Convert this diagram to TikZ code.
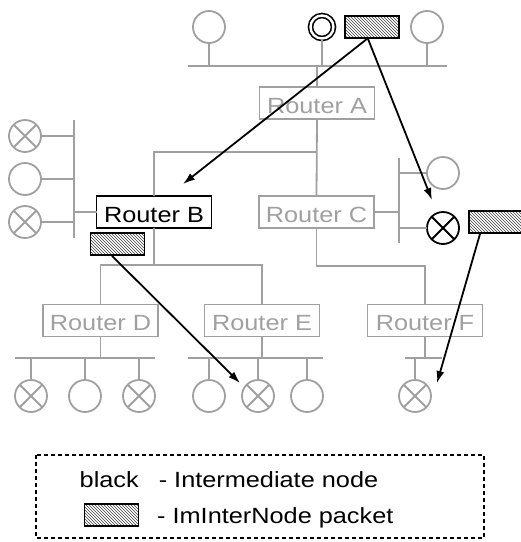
\documentclass[tikz,border=0pt]{standalone}
\usepackage{fontspec}
\setmainfont{Liberation Sans}[FakeStretch=1.15]
\usetikzlibrary{patterns,arrows.meta}
\definecolor{netgray}{RGB}{160,160,160}
\begin{document}
\begin{tikzpicture}[x=1pt,y=-1pt,
  wire/.style={draw=netgray,line width=1.8pt},
  host/.style={circle,draw=#1,line width=1.8pt,minimum size=32pt,inner sep=0pt,outer sep=0pt},
  host/.default=netgray,
  crossed/.style={host=#1,path picture={
      \draw[#1,line width=1.8pt]
        (path picture bounding box.north west) -- (path picture bounding box.south east)
        (path picture bounding box.north east) -- (path picture bounding box.south west);}},
  crossed/.default=netgray,
  source/.style={circle,draw=black,double=white,line width=1.6pt,double distance=2.4pt,
      minimum size=23pt,inner sep=0pt,outer sep=0pt},
  router/.style={rectangle,draw=#1,text=#1,line width=1.8pt,minimum width=115pt,
      minimum height=32pt,inner sep=0pt,outer sep=0pt,text height=20pt,text depth=0pt,
      font=\fontsize{22pt}{26pt}\selectfont},
  router/.default=netgray,
  packet/.style={rectangle,draw=black,line width=1.8pt,pattern=north west lines,
      pattern color=black!75,minimum width=54pt,minimum height=22pt,inner sep=0pt},
  hop/.style={draw=black,line width=1.8pt,-{Latex[length=12pt,width=8pt]}},
  legendtext/.style={anchor=base west,inner sep=0pt,font=\fontsize{22pt}{26pt}\selectfont}
]
\useasboundingbox (0,0) rectangle (521,542);

% routers
\node[router]       (rA) at (317,103)   {Router A};
\node[router=black] (rB) at (154,212)   {Router B};
\node[router]       (rC) at (316.5,212) {Router C};
\node[router]       (rD) at (100.5,320.5) {Router D};
\node[router]       (rE) at (262,320.5) {Router E};
\node[router]       (rF) at (425,320.5) {Router F};

% top segment
\node[host]   (t1) at (209,27) {};
\node[source] (t2) at (322,27) {};
\node[host]   (t3) at (427,27) {};
\coordinate (tbL) at (188,66);
\coordinate (tbR) at (447,66);
\draw[wire] (tbL) -- (tbR);
\draw[wire] (t1.south) -- (t1.south |- tbL);
\draw[wire] (t2.south) -- (t2.south |- tbL);
\draw[wire] (t3.south) -- (t3.south |- tbL);
\draw[wire] (rA.north) -- (rA.north |- tbL);

% left segment at Router B
\node[crossed] (l1) at (25,136) {};
\node[host]    (l2) at (25,179) {};
\node[crossed] (l3) at (25,222) {};
\coordinate (lbT) at (74,120);
\coordinate (lbB) at (74,238);
\draw[wire] (lbT) -- (lbB);
\draw[wire] (l1.east) -- (l1.east -| lbT);
\draw[wire] (l2.east) -- (l2.east -| lbT);
\draw[wire] (l3.east) -- (l3.east -| lbT);
\draw[wire] (rB.west) -- (rB.west -| lbT);

% right segment at Router C
\node[host]          (r1) at (443,173) {};
\node[crossed=black] (r2) at (443,228) {};
\coordinate (rbT) at (399,158);
\coordinate (rbB) at (399,243);
\draw[wire] (rbT) -- (rbB);
\draw[wire] (r1.west) -- (r1.west -| rbT);
\draw[wire] (r2.west) -- (r2.west -| rbT);
\draw[wire] (rC.east) -- (rC.east -| rbT);

% router tree
\coordinate (jA) at (0,152);
\coordinate (jB) at (0,265);
\coordinate (jC) at (0,266);
\draw[wire] (rA.south) -- (rC.north);
\draw[wire] (rA.south |- jA) -| (rB.north);
\draw[wire] (rB.south) -- (rB.south |- jB);
\draw[wire] (rD.north) -- (rD.north |- jB) -- (rE.north |- jB) -- (rE.north);
\draw[wire] (rC.south) |- (rF.north |- jC) -- (rF.north);

% bottom segments
\coordinate (busD) at (15,358);
\coordinate (busDr) at (155,358);
\coordinate (busE) at (188,358);
\coordinate (busEr) at (323,358);
\coordinate (busF) at (405,358);
\coordinate (busFr) at (442,358);
\draw[wire] (busD) -- (busDr);
\draw[wire] (busE) -- (busEr);
\draw[wire] (busF) -- (busFr);
\draw[wire] (rD.south) -- (rD.south |- busD);
\draw[wire] (rE.south) -- (rE.south |- busD);
\draw[wire] (rF.south) -- (rF.south |- busD);

\node[crossed] (d1) at (31,396)  {};
\node[host]    (d2) at (85,396)  {};
\node[crossed] (d3) at (139,396) {};
\node[host]    (e1) at (209,396) {};
\node[crossed] (e2) at (258,396) {};
\node[host]    (e3) at (307,396) {};
\node[crossed] (f1) at (415,396) {};
\foreach \h in {d1,d2,d3,e1,e2,e3,f1}
  \draw[wire] (\h.north) -- (\h.north |- busD);

% packets and their hops
\node[packet] (pk1) at (372,27)    {};
\node[packet] (pkB) at (117.5,244) {};
\node[packet] (pkC) at (496,222)   {};

\coordinate (toB)  at (183,184);
\coordinate (toR2) at (432,200);
\coordinate (toE2) at (240,383);
\coordinate (toF1) at (437,383);
\draw[hop] ([xshift=-5pt]pk1.south) -- (toB);
\draw[hop] ([xshift=-4pt]pk1.south) -- (toR2);
\draw[hop] ([xshift=-5.5pt]pkB.south) -- (toE2);
\draw[hop] ([xshift=-16pt]pkC.south) -- (toF1);

% legend
\coordinate (lgNW) at (36,455);
\coordinate (lgSE) at (484,538);
\draw[black,line width=1.5pt,dash pattern=on 4pt off 3pt] (lgNW) rectangle (lgSE);
\node[legendtext] (lg1) at (79.5,487) {black\hspace{13pt} - Intermediate node};
\node[packet] (lgpk) at (111.5,515) {};
\node[legendtext] (lg2) at (157,523) {- ImInterNode packet};
\end{tikzpicture}
\end{document}
